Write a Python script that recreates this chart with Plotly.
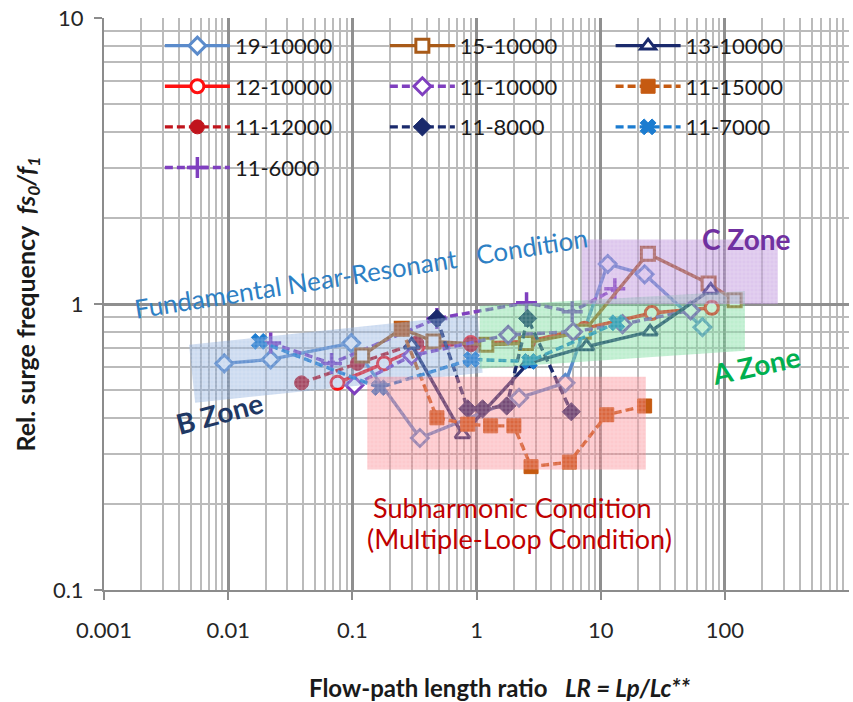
import math
import plotly.graph_objects as go

# ---- measured points: flow-path length ratio LR and relative surge frequency fs0/f1 ----
lr_19_10000 = [0.0093, 0.022, 0.098, 0.35, 2.2, 5.2, 11.4, 22.6, 66]
fs_19_10000 = [0.62, 0.64, 0.73, 0.34, 0.47, 0.53, 1.38, 1.27, 0.83]

lr_15_10000 = [0.12, 0.25, 0.45, 1.2, 2.5, 7.3, 24, 74, 120]
fs_15_10000 = [0.66, 0.82, 0.74, 0.72, 0.73, 0.80, 1.50, 1.18, 1.03]

lr_13_10000 = [0.30, 0.77, 2.6, 7.7, 25, 77]
fs_13_10000 = [0.72, 0.35, 0.62, 0.71, 0.80, 1.12]

lr_12_10000 = [0.076, 0.18, 0.33, 0.9, 2.6, 7.4, 25.8, 78.5]
fs_12_10000 = [0.53, 0.62, 0.70, 0.73, 0.74, 0.82, 0.93, 0.97]

lr_11_10000 = [0.104, 0.3, 1.8, 6.0, 15, 53]
fs_11_10000 = [0.52, 0.66, 0.78, 0.80, 0.85, 0.95]

lr_11_15000 = [0.25, 0.48, 0.85, 1.3, 2.0, 2.75, 5.6, 11.2, 22.6]
fs_11_15000 = [0.82, 0.40, 0.38, 0.375, 0.375, 0.27, 0.28, 0.41, 0.44]

lr_11_12000 = [0.039, 0.11, 0.33, 0.9, 2.6]
fs_11_12000 = [0.53, 0.62, 0.73, 0.72, 0.73]

lr_11_8000 = [0.48, 0.85, 1.12, 1.75, 2.58, 5.8]
fs_11_8000 = [0.89, 0.43, 0.43, 0.44, 0.89, 0.42]

lr_11_7000 = [0.0178, 0.165, 0.91, 2.67, 13.5]
fs_11_7000 = [0.74, 0.51, 0.64, 0.63, 0.86]

lr_11_6000 = [0.022, 0.068, 0.48, 2.53, 5.9, 13]
fs_11_6000 = [0.73, 0.62, 0.89, 1.01, 0.94, 1.13]

# ---- operating zones (polygon corners in LR / fs0/f1 units) ----
zone_b_lr = [0.00484, 1.02, 1.12, 0.00542]
zone_b_fs = [0.72, 0.92, 0.575, 0.452]
zone_sub_lr = [0.132, 23.1, 23.1, 0.132]
zone_sub_fs = [0.557, 0.557, 0.264, 0.264]
zone_a_lr = [1.06, 145, 145, 1.06]
zone_a_fs = [0.984, 1.11, 0.686, 0.594]
zone_c_lr = [7.03, 267, 267, 7.03]
zone_c_fs = [1.68, 1.68, 1.0, 1.0]

x_tick_vals = [0.001, 0.01, 0.1, 1, 10, 100]
x_tick_text = ["0.001", "0.01", "0.1", "1", "10", "100"]
y_tick_vals = [0.1, 1, 10]
y_tick_text = ["0.1", "1", "10"]

FONT = "Lato"

# name, x, y, colour, dash, symbol, filled, legend column
series = [
    ("19-10000", lr_19_10000, fs_19_10000, "#5B8BCB", "solid", "diamond", False, "legend"),
    ("12-10000", lr_12_10000, fs_12_10000, "#FF1010", "solid", "circle", False, "legend"),
    ("11-12000", lr_11_12000, fs_11_12000, "#C0141C", "8px,4px", "circle", True, "legend"),
    ("11-6000", lr_11_6000, fs_11_6000, "#7F3FBF", "8px,4px", "cross-thin", True, "legend"),
    ("15-10000", lr_15_10000, fs_15_10000, "#A85A18", "solid", "square", False, "legend2"),
    ("11-10000", lr_11_10000, fs_11_10000, "#7F3FBF", "8px,4px", "diamond", False, "legend2"),
    ("11-8000", lr_11_8000, fs_11_8000, "#1A2A6C", "8px,4px", "diamond", True, "legend2"),
    ("13-10000", lr_13_10000, fs_13_10000, "#1A2A6C", "solid", "triangle-up", False, "legend3"),
    ("11-15000", lr_11_15000, fs_11_15000, "#C55A11", "8px,4px", "square", True, "legend3"),
    ("11-7000", lr_11_7000, fs_11_7000, "#1C7CD0", "8px,4px", "x", True, "legend3"),
]

fig = go.Figure()

for name, xs, ys, col, dash, sym, filled, leg in series:
    if sym == "cross-thin":
        marker = dict(symbol=sym, size=15, color=col, line=dict(color=col, width=3.5))
    elif filled:
        marker = dict(symbol=sym, size=14, color=col, line=dict(color=col, width=1))
    else:
        marker = dict(symbol=sym, size=13, color="white", line=dict(color=col, width=3))
    fig.add_trace(go.Scatter(
        x=xs, y=ys, name=name, mode="lines+markers",
        line=dict(color=col, width=3.4, dash=dash),
        marker=marker, legend=leg, legendgroup=name,
    ))


def zone(xs, ys, bg, fg):
    return go.Scatter(
        x=xs + [xs[0]], y=ys + [ys[0]], mode="lines", fill="toself",
        line=dict(width=0, color=bg), fillcolor=bg,
        fillpattern=dict(shape="+", fgcolor=fg, bgcolor=bg, size=4, solidity=0.35),
        hoverinfo="skip", showlegend=False,
    )


fig.add_trace(zone(zone_b_lr, zone_b_fs, "rgba(120,160,215,0.38)", "rgba(255,255,255,0.45)"))
fig.add_trace(zone(zone_sub_lr, zone_sub_fs, "rgba(250,120,130,0.40)", "rgba(255,255,255,0.45)"))
fig.add_trace(zone(zone_a_lr, zone_a_fs, "rgba(100,215,140,0.42)", "rgba(255,255,255,0.45)"))
fig.add_trace(zone(zone_c_lr, zone_c_fs, "rgba(180,130,215,0.45)", "rgba(255,255,255,0.45)"))


def ann(text, x, y, color, size, angle=0, bold=False):
    fig.add_annotation(
        x=math.log10(x), y=math.log10(y), xref="x", yref="y",
        xanchor="center", yanchor="middle",
        text=f"<b>{text}</b>" if bold else text, showarrow=False,
        textangle=angle, font=dict(family=FONT, size=size, color=color),
    )


ann("Fundamental Near-Resonant\u00a0\u00a0 Condition", 0.118, 1.28, "#2E80C4", 26, angle=-9)
ann("B Zone", 0.00846, 0.417, "#1F3864", 28, angle=-15, bold=True)
ann("A Zone", 178, 0.613, "#00B050", 28, angle=-12, bold=True)
ann("C Zone", 150, 1.685, "#7030A0", 28, bold=True)
ann("Subharmonic Condition", 1.915, 0.195, "#C00000", 27)
ann("(Multiple-Loop Condition)", 2.22, 0.151, "#C00000", 27)

# x-axis title sits slightly right of the plot centre
fig.add_annotation(
    xref="paper", yref="paper", x=0.532, y=-0.171, xanchor="center", yanchor="middle",
    showarrow=False,
    text="<b>Flow-path length ratio\u00a0\u00a0\u00a0<i>LR = Lp/Lc**</i></b>",
    font=dict(family=FONT, size=24, color="#1A1A1A"),
)

axis_common = dict(
    type="log", showline=True, linecolor="#8C8C8C", linewidth=2,
    showgrid=True, gridcolor="#8F8F8F", gridwidth=2.5,
    ticks="outside", ticklen=8, tickwidth=2, tickcolor="#8C8C8C",
    tickfont=dict(family=FONT, size=22, color="#262626"),
    minor=dict(dtick="D1", showgrid=True, gridcolor="#BBBBBB", gridwidth=2.4, ticks=""),
    zeroline=False, mirror=False,
)

fig.update_xaxes(
    **axis_common, range=[-3, 3], dtick=1,
    tickvals=x_tick_vals, ticktext=x_tick_text, ticklabelstandoff=12,
)
fig.update_yaxes(
    **axis_common, range=[-1, 1], dtick=1,
    tickvals=y_tick_vals, ticktext=y_tick_text, ticklabelstandoff=6,
    title=dict(
        text="<b>Rel. surge frequency\u00a0\u00a0<i>fs<sub>0</sub>/f<sub>1</sub></i></b>",
        font=dict(family=FONT, size=25, color="#1A1A1A"), standoff=10,
    ),
)

leg_common = dict(
    orientation="v", bgcolor="rgba(0,0,0,0)", borderwidth=0,
    font=dict(family=FONT, size=22, color="#1A1A1A"),
    itemwidth=65, tracegroupgap=9, yanchor="top", y=0.988, xanchor="left",
    itemclick=False, itemdoubleclick=False,
)
fig.update_layout(
    width=853, height=702,
    margin=dict(l=104, r=4, t=16, b=112),
    paper_bgcolor="white", plot_bgcolor="white",
    showlegend=True,
    legend=dict(**leg_common, x=0.075),
    legend2=dict(**leg_common, x=0.377),
    legend3=dict(**leg_common, x=0.68),
)

fig.write_html("out.html")
